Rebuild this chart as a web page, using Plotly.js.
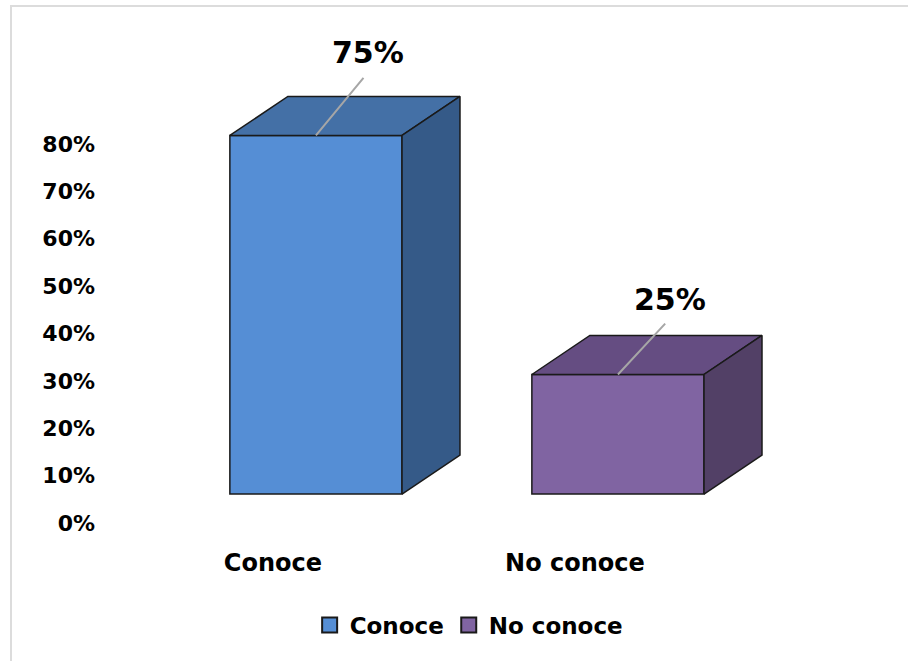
<!DOCTYPE html>
<html>
<head>
<meta charset="utf-8">
<script src="https://cdn.plot.ly/plotly-3.0.1.min.js"></script>
<style>
  html, body { margin: 0; padding: 0; background: #ffffff; }
  #wrap { position: relative; width: 908px; height: 661px; }
  #chart { width: 908px; height: 661px; }
  #frame { position: absolute; left: 10px; top: 5px; right: 0; bottom: 0;
           border-top: 2px solid #dcdcdc; border-left: 2px solid #dcdcdc; pointer-events: none; }
</style>
</head>
<body>
<div id="wrap"><div id="chart"></div><div id="frame"></div></div>
<script>
// ---- data ----
const categories = ["Conoce", "No conoce"];
const values = [0.75, 0.25];
const labels = ["75%", "25%"];
const yTickVals = [0, 0.1, 0.2, 0.3, 0.4, 0.5, 0.6, 0.7, 0.8];
const yTickText = ["0%", "10%", "20%", "30%", "40%", "50%", "60%", "70%", "80%"];

// ---- style ----
const frontColors = ["#558ED5", "#8064A2"];
const topColors   = ["#4470A6", "#654D82"];
const sideColors  = ["#355A88", "#524066"];
const edge = "#1a1a1a";
const FONT = "DejaVu Sans, Verdana, sans-serif";
const barW = 0.57;      // bar width (category units)
const depthX = 0.192;   // 3D depth offset in x (category units)
const depthY = 0.0816;  // 3D depth offset in y (value units)
const labelOffY = [-63, -56]; // leader-line offsets in px

const traces = [];
categories.forEach((c, i) => {
  traces.push({
    type: "bar", name: c, x: [i], y: [values[i]], width: barW,
    xaxis: "x", yaxis: "y2", showlegend: false,
    marker: { color: frontColors[i], line: { color: edge, width: 1.5 } },
    hoverinfo: "skip"
  });
});
categories.forEach((c, i) => {
  const v = values[i], x0 = i - barW / 2, x1 = i + barW / 2;
  // top face
  traces.push({
    type: "scatter", mode: "lines", xaxis: "x", yaxis: "y2", showlegend: false, hoverinfo: "skip",
    x: [x0, x1, x1 + depthX, x0 + depthX, x0],
    y: [v, v, v + depthY, v + depthY, v],
    fill: "toself", fillcolor: topColors[i], line: { color: edge, width: 1.5 }
  });
  // side face
  traces.push({
    type: "scatter", mode: "lines", xaxis: "x", yaxis: "y2", showlegend: false, hoverinfo: "skip",
    x: [x1, x1 + depthX, x1 + depthX, x1, x1],
    y: [0, depthY, v + depthY, v, 0],
    fill: "toself", fillcolor: sideColors[i], line: { color: edge, width: 1.5 }
  });
});
// legend entries (square swatches)
categories.forEach((c, i) => {
  traces.push({
    type: "scatter", mode: "markers", name: c, x: [null], y: [null], xaxis: "x", yaxis: "y2",
    marker: { symbol: "square", size: 15, color: frontColors[i], line: { color: edge, width: 2 } },
    hoverinfo: "skip"
  });
});
// keep main y axis active
traces.push({ type: "scatter", mode: "markers", x: [0], y: [0], xaxis: "x", yaxis: "y",
  marker: { opacity: 0 }, showlegend: false, hoverinfo: "skip" });

const annotations = categories.map((c, i) => ({
  x: i, y: values[i], xref: "x", yref: "y2",
  text: "<b>" + labels[i] + "</b>",
  showarrow: true, arrowhead: 0, arrowwidth: 2, arrowcolor: "#a6a6a6",
  ax: 52, ay: labelOffY[i], yanchor: "bottom", startstandoff: 7,
  font: { family: FONT, size: 30, color: "#000000" }
}));

const layout = {
  width: 908, height: 661,
  margin: { l: 100, r: 40, t: 60, b: 121 },
  paper_bgcolor: "#ffffff", plot_bgcolor: "rgba(0,0,0,0)",
  barmode: "overlay",
  showlegend: true,
  legend: {
    orientation: "h", x: 0.48, xanchor: "center", y: -0.177, yanchor: "middle",
    font: { family: FONT, size: 23, color: "#000000", weight: "bold" },
    itemwidth: 30, tracegroupgap: 0
  },
  xaxis: {
    range: [-0.715, 1.828], tickmode: "array", tickvals: categories.map((c, i) => i),
    ticktext: categories, showgrid: false, zeroline: false, showline: false, ticks: "",
    ticklabelshift: -43, ticklabelstandoff: 6,
    tickfont: { family: FONT, size: 24, color: "#000000", weight: "bold" },
    fixedrange: true
  },
  yaxis: {
    range: [-0.0359, 0.9773], tickmode: "array", tickvals: yTickVals, ticktext: yTickText,
    showgrid: false, zeroline: false, showline: false, ticks: "",
    tickfont: { family: FONT, size: 22, color: "#000000", weight: "bold" },
    ticklabelstandoff: 4, fixedrange: true
  },
  yaxis2: {
    range: [-0.0962, 0.9079], overlaying: "y", side: "left", visible: false,
    showgrid: false, zeroline: false, fixedrange: true
  },
  annotations: annotations
};

Plotly.newPlot("chart", traces, layout, { displayModeBar: false, staticPlot: true });
</script>
</body>
</html>
